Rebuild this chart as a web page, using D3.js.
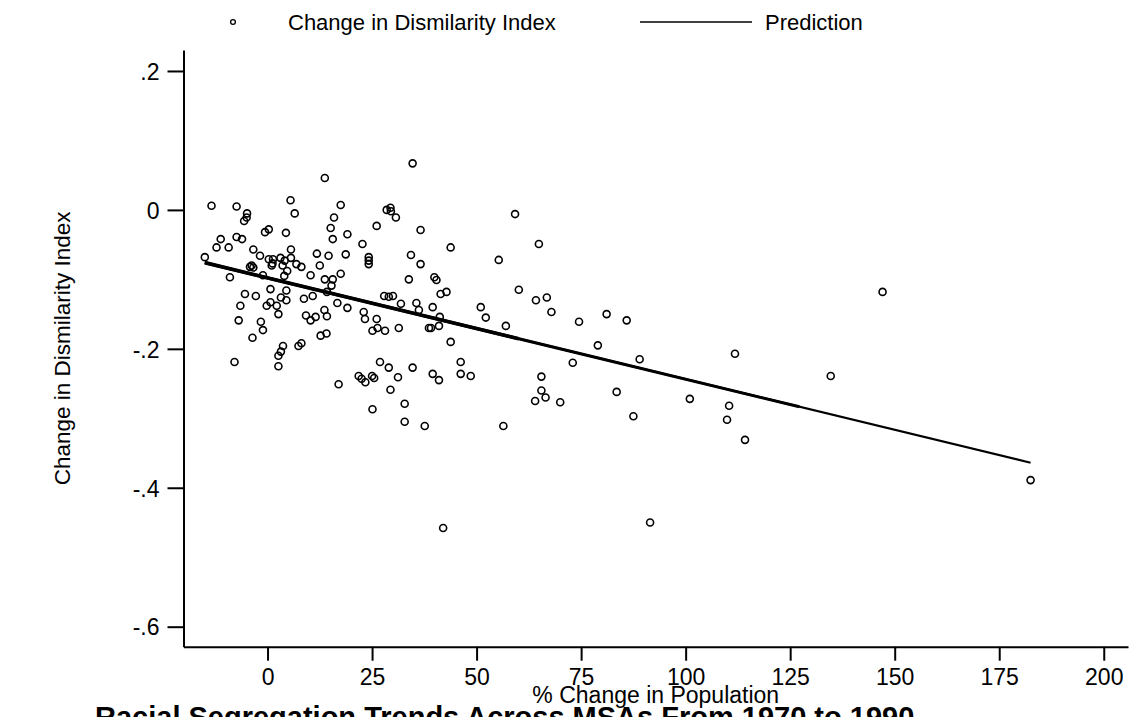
<!DOCTYPE html>
<html>
<head>
<meta charset="utf-8">
<script src="https://cdn.jsdelivr.net/npm/d3@7"></script>
<style>
  body { margin: 0; background: #fff; overflow: hidden; }
  text { font-family: "Liberation Sans", Arial, sans-serif; fill: #000; }
</style>
</head>
<body>
<div id="chart"></div>
<script>
// % change in population (x) and change in dissimilarity index (y), one entry per MSA
const popChange = [
  13.7, -13.4, -7.4, 5.5, 17.5, -4.9, -5.0, -5.6, 6.5, 15.9,
  15.1, 0.3, -0.6, 4.4, 19.1, -11.2, -7.4, -6.1, 15.6, -12.2,
  -9.3, -3.4, 5.6, -1.8, 5.6, 11.8, 14.6, 18.7, -15.0, 0.3,
  1.3, 3.1, 4.1, 1.2, 1.0, 3.6, -3.8, -3.4, -4.2, 6.9,
  8.1, 12.5, 4.7, -9.0, -1.1, 4.0, 10.3, 13.7, 15.6, 17.5,
  15.3, 0.7, 4.5,
  -5.4, -2.8, 3.2, 4.5, 8.7, 10.8, 14.2, -6.5, 0.7, -0.2,
  2.2, 2.6, 16.7, 19.1, 13.6, 14.2, 9.2, 10.3, 11.5, -6.9,
  -1.6, -1.1, -3.6, 12.7, 14.1, 3.7, 3.2, 2.6, 7.4, 8.1,
  -7.9, 2.6, 17.0, 21.8,
  34.7, 28.5, 29.4, 29.5, 30.7, 26.1, 36.6, 22.7, 43.8, 24.2,
  24.2, 24.2, 34.3, 36.6, 55.3, 33.8, 39.9, 40.4,
  27.9, 30.0, 29.0, 41.4, 42.8, 31.9, 35.6, 36.2, 39.5, 23.0,
  23.3, 26.1, 26.3, 25.1, 28.1, 31.4, 41.2, 41.0, 38.6, 39.1,
  51.0, 52.2, 57.0, 43.8, 26.9, 29.0, 34.7, 22.5, 23.4, 25.0,
  25.5, 31.2, 29.4, 39.5, 41.0, 46.2, 46.2, 48.6, 25.1, 32.8,
  32.8, 37.6, 56.4, 42.0,
  59.2, 64.9, 60.1, 64.2, 66.8, 67.9, 74.5, 81.1, 85.9,
  147.1, 111.8, 134.7, 101.0, 110.4, 109.9, 114.2, 182.5,
  79.0, 73.0, 89.0, 65.5, 65.5, 64.0, 66.5, 70.0, 83.5, 87.5, 91.5
];
const dissimChange = [
  0.046, 0.006, 0.005, 0.014, 0.007, -0.005, -0.011, -0.016, -0.005, -0.011,
  -0.026, -0.028, -0.032, -0.033, -0.035, -0.042, -0.039, -0.042, -0.042, -0.054,
  -0.054, -0.057, -0.057, -0.066, -0.069, -0.063, -0.066, -0.064, -0.068, -0.071,
  -0.071, -0.069, -0.073, -0.077, -0.080, -0.080, -0.080, -0.083, -0.082, -0.078,
  -0.082, -0.080, -0.088, -0.097, -0.094, -0.095, -0.094, -0.100, -0.100, -0.092,
  -0.109, -0.114, -0.116,
  -0.121, -0.124, -0.126, -0.130, -0.128, -0.124, -0.118, -0.138, -0.133, -0.138,
  -0.138, -0.150, -0.134, -0.141, -0.144, -0.153, -0.152, -0.159, -0.154, -0.159,
  -0.161, -0.173, -0.184, -0.181, -0.178, -0.196, -0.204, -0.210, -0.196, -0.192,
  -0.219, -0.225, -0.251, -0.239,
  0.067, 0.000, 0.003, -0.002, -0.011, -0.023, -0.029, -0.049, -0.054, -0.068,
  -0.073, -0.078, -0.065, -0.078, -0.072, -0.100, -0.097, -0.101,
  -0.124, -0.124, -0.125, -0.121, -0.118, -0.135, -0.134, -0.144, -0.140, -0.147,
  -0.157, -0.157, -0.170, -0.174, -0.174, -0.170, -0.154, -0.167, -0.170, -0.170,
  -0.140, -0.155, -0.167, -0.190, -0.219, -0.227, -0.227, -0.243, -0.248, -0.239,
  -0.242, -0.241, -0.259, -0.236, -0.245, -0.219, -0.236, -0.239, -0.287, -0.279,
  -0.305, -0.311, -0.311, -0.458,
  -0.006, -0.049, -0.115, -0.130, -0.126, -0.147, -0.161, -0.150, -0.159,
  -0.118, -0.207, -0.239, -0.272, -0.282, -0.302, -0.331, -0.389,
  -0.195, -0.220, -0.215, -0.240, -0.260, -0.275, -0.270, -0.277, -0.262, -0.297, -0.450
];

// fitted line, read at its two ends
const predX = [-15.0, 182.5];
const predY = [-0.076, -0.364];

const xTicks = [0, 25, 50, 75, 100, 125, 150, 175, 200];
const yTicks = [0.2, 0, -0.2, -0.4, -0.6];
const yTickLabels = ['.2', '0', '-.2', '-.4', '-.6'];

const width = 1136;
const height = 717;
const plotLeft = 183.5, plotRight = 1128, plotTop = 50, plotBottom = 646.7;

const scaleX = d3.scaleLinear()
  .domain([-20.1, 205.8])
  .range([plotLeft, plotRight]);

const scaleY = d3.scaleLinear()
  .domain([0.2302, -0.6288])
  .range([plotTop, plotBottom]);

const svg = d3.select('#chart')
  .append('svg')
  .attr('width', width)
  .attr('height', height);

// axes
const xAxis = d3.axisBottom(scaleX)
  .tickValues(xTicks)
  .tickSize(14)
  .tickSizeOuter(0)
  .tickPadding(8);

const gx = svg.append('g')
  .attr('transform', `translate(0, ${plotBottom})`)
  .call(xAxis);

const yAxis = d3.axisLeft(scaleY)
  .tickValues(yTicks)
  .tickFormat((d, i) => yTickLabels[i])
  .tickSize(16)
  .tickSizeOuter(0)
  .tickPadding(8);

const gy = svg.append('g')
  .attr('transform', `translate(${plotLeft}, 0)`)
  .call(yAxis);

[gx, gy].forEach(g => {
  g.selectAll('path.domain').attr('stroke', '#000').attr('stroke-width', 2);
  g.selectAll('.tick line').attr('stroke', '#000').attr('stroke-width', 2);
  g.selectAll('.tick text')
    .style('font-family', '"Liberation Sans", Arial, sans-serif')
    .style('font-size', '23px')
    .attr('fill', '#000');
});
gy.selectAll('.tick text').attr('dy', '0.36em');

// prediction line: thicker where the data are dense (overlapping segments)
const lineGen = d3.line()
  .x(d => scaleX(d[0]))
  .y(d => scaleY(d[1]));
const predPts = predX.map((x, i) => [x, predY[i]]);
const along = t => [
  predX[0] + (predX[1] - predX[0]) * t,
  predY[0] + (predY[1] - predY[0]) * t
];
svg.append('path')
  .attr('d', lineGen(predPts))
  .attr('fill', 'none').attr('stroke', '#000').attr('stroke-width', 2.2);
svg.append('path')
  .attr('d', lineGen([along(0), along(0.72)]))
  .attr('fill', 'none').attr('stroke', '#000').attr('stroke-width', 3);
svg.append('path')
  .attr('d', lineGen([along(0), along(0.38)]))
  .attr('fill', 'none').attr('stroke', '#000').attr('stroke-width', 3.8);

// points
svg.append('g')
  .selectAll('circle')
  .data(popChange.map((x, i) => [x, dissimChange[i]]))
  .enter()
  .append('circle')
  .attr('cx', d => scaleX(d[0]))
  .attr('cy', d => scaleY(d[1]))
  .attr('r', 3.5)
  .attr('fill', 'none')
  .attr('stroke', '#000')
  .attr('stroke-width', 1.6);

// legend
const legend = svg.append('g');
legend.append('circle')
  .attr('cx', 233).attr('cy', 22).attr('r', 2.4)
  .attr('fill', 'none').attr('stroke', '#000').attr('stroke-width', 1.3);
legend.append('text')
  .attr('x', 288).attr('y', 22).attr('dy', '0.36em')
  .style('font-size', '22px')
  .text('Change in Dismilarity Index');
legend.append('line')
  .attr('x1', 640).attr('x2', 752).attr('y1', 22).attr('y2', 22)
  .attr('stroke', '#000').attr('stroke-width', 1.6);
legend.append('text')
  .attr('x', 765).attr('y', 22).attr('dy', '0.36em')
  .style('font-size', '22px')
  .text('Prediction');

// axis titles
svg.append('text')
  .attr('transform', `translate(70, ${(plotTop + plotBottom) / 2}) rotate(-90)`)
  .attr('text-anchor', 'middle')
  .style('font-size', '22.5px')
  .text('Change in Dismilarity Index');

svg.append('text')
  .attr('x', (plotLeft + plotRight) / 2).attr('y', 703)
  .attr('text-anchor', 'middle')
  .style('font-size', '23px')
  .text('% Change in Population');

// chart title, partly below the bottom edge of the window
svg.append('text')
  .attr('x', 95).attr('y', 727)
  .style('font-size', '29px')
  .style('font-weight', 'bold')
  .text('Racial Segregation Trends Across MSAs From 1970 to 1990');
</script>
</body>
</html>
